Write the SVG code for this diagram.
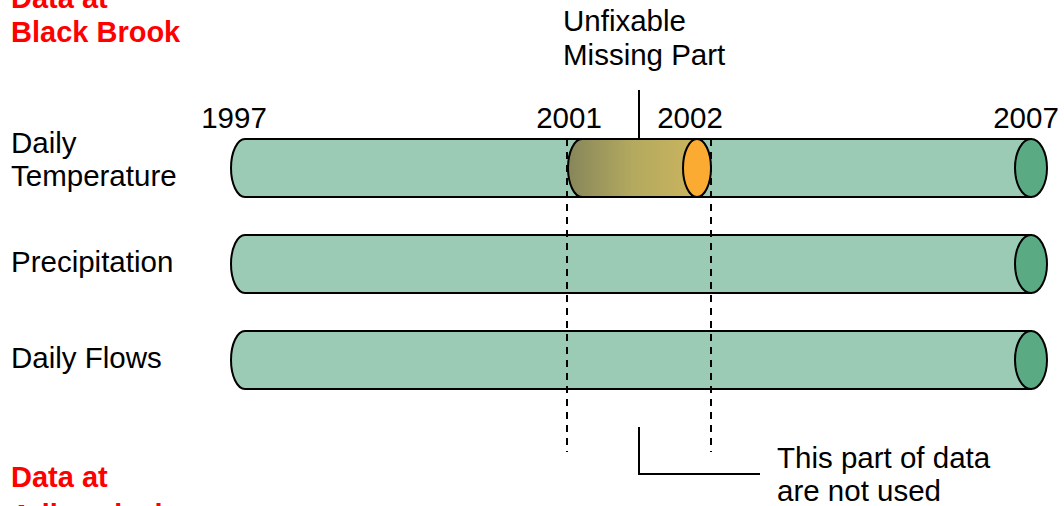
<svg xmlns="http://www.w3.org/2000/svg" width="1064" height="506" viewBox="0 0 1064 506">
  <style>
    .txt { font-family: "Liberation Sans", Arial, sans-serif; font-size: 29.5px; fill: #000; }
    .head { font-family: "Liberation Sans", Arial, sans-serif; font-size: 29px; font-weight: bold; fill: #ff0000; }
    .body { fill: #9ccbb5; stroke: #000; stroke-width: 2; }
    .cap { fill: #5aab84; stroke: #000; stroke-width: 2; }
    .line { stroke: #000; stroke-width: 2; fill: none; }
    .dash { stroke: #000; stroke-width: 2; fill: none; stroke-dasharray: 7 6; }
  </style>
  <defs>
    <linearGradient id="missingFill" x1="0" y1="0" x2="1" y2="0">
      <stop offset="0" stop-color="#86865a"/>
      <stop offset="0.5" stop-color="#b3a95f"/>
      <stop offset="1" stop-color="#cbb55e"/>
    </linearGradient>
  </defs>
  <rect width="1064" height="506" fill="#ffffff"/>

  <!-- headings -->
  <g id="heading-top">
    <text class="head" x="11" y="8">Data at</text>
    <text class="head" x="11" y="42">Black Brook</text>
  </g>
  <g id="heading-bottom">
    <text class="head" x="11" y="487">Data at</text>
    <text class="head" x="11" y="525">Adirondack</text>
  </g>

  <!-- row labels -->
  <g id="label-temperature">
    <text class="txt" x="11" y="153">Daily</text>
    <text class="txt" x="11" y="186">Temperature</text>
  </g>
  <g id="label-precipitation"><text class="txt" x="11" y="272">Precipitation</text></g>
  <g id="label-flows"><text class="txt" x="11" y="368">Daily Flows</text></g>

  <!-- year marks -->
  <g id="years" class="txt" text-anchor="middle">
    <text x="234" y="128">1997</text>
    <text x="569" y="128">2001</text>
    <text x="690" y="128">2002</text>
    <text x="1026" y="128">2007</text>
  </g>

  <!-- data series cylinders -->
  <g id="series-temperature">
    <path class="body" d="M245 139 H1031 V197 H245 A14 29 0 0 1 245 139 Z"/>
    <ellipse class="cap" cx="1031" cy="168" rx="16" ry="29"/>
    <g id="missing-part">
      <path d="M582 139 H697 V197 H582 A14 29 0 0 1 582 139 Z" fill="url(#missingFill)" stroke="#000" stroke-width="2"/>
      <ellipse cx="697" cy="168" rx="14" ry="29" fill="#fbab31" stroke="#000" stroke-width="2"/>
    </g>
  </g>
  <g id="series-precipitation">
    <path class="body" d="M245 235 H1031 V293 H245 A14 29 0 0 1 245 235 Z"/>
    <ellipse class="cap" cx="1031" cy="264" rx="16" ry="29"/>
  </g>
  <g id="series-flows">
    <path class="body" d="M245 331 H1031 V389 H245 A14 29 0 0 1 245 331 Z"/>
    <ellipse class="cap" cx="1031" cy="360" rx="16" ry="29"/>
  </g>

  <!-- annotations -->
  <g id="label-missing">
    <text class="txt" x="563" y="31">Unfixable</text>
    <text class="txt" x="563" y="65">Missing Part</text>
  </g>
  <g id="label-unused">
    <text class="txt" x="777" y="468">This part of data</text>
    <text class="txt" x="777" y="501">are not used</text>
  </g>

  <!-- connectors -->
  <g id="connectors">
    <line class="line" x1="639" y1="90" x2="639" y2="139"/>
    <line class="dash" x1="567" y1="139" x2="567" y2="452"/>
    <line class="dash" x1="711" y1="139" x2="711" y2="452"/>
    <polyline class="line" points="639,427 639,474 760,474"/>
  </g>
</svg>
